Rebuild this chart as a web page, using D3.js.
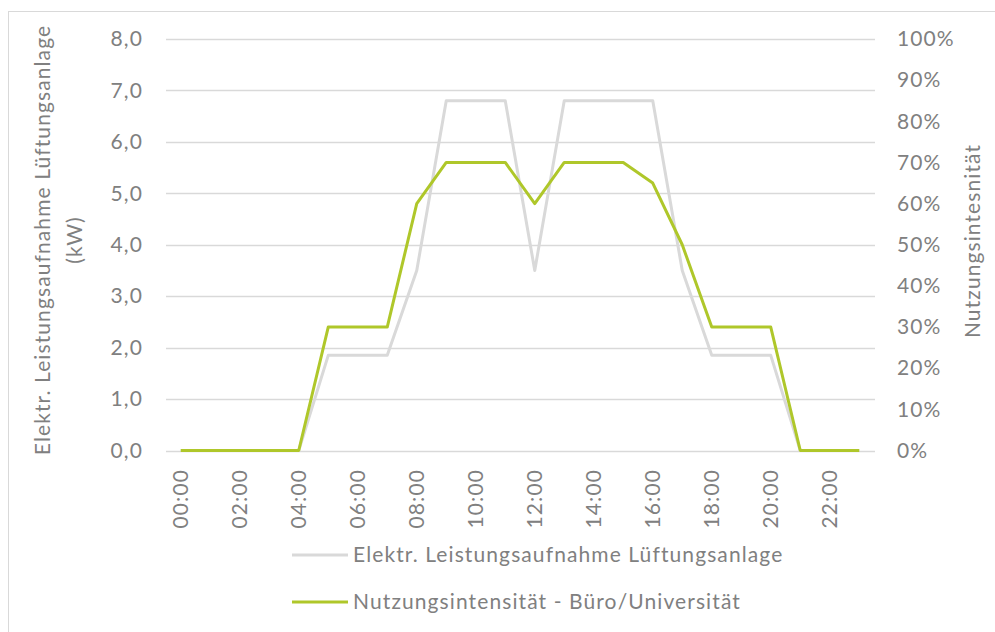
<!DOCTYPE html>
<html>
<head>
<meta charset="utf-8">
<script src="https://cdn.jsdelivr.net/npm/d3@7"></script>
<style>
  body { margin: 0; background: #fff; }
  text { font-family: Lato, "Open Sans", sans-serif; fill: #808080; letter-spacing: 1.1px; }
</style>
</head>
<body>
<script>
// hours of the day (categories)
var hours = ["00:00","01:00","02:00","03:00","04:00","05:00","06:00","07:00","08:00","09:00","10:00","11:00",
             "12:00","13:00","14:00","15:00","16:00","17:00","18:00","19:00","20:00","21:00","22:00","23:00"];
// electric power ventilation system (kW)
var power = [0,0,0,0,0,1.85,1.85,1.85,3.5,6.8,6.8,6.8,3.5,6.8,6.8,6.8,6.8,3.5,1.85,1.85,1.85,0,0,0];
// usage intensity office/university (share)
var usage = [0,0,0,0,0,0.3,0.3,0.3,0.6,0.7,0.7,0.7,0.6,0.7,0.7,0.7,0.65,0.5,0.3,0.3,0.3,0,0,0];
var leftTicks = [0,1,2,3,4,5,6,7,8];
var rightTicks = [0,0.1,0.2,0.3,0.4,0.5,0.6,0.7,0.8,0.9,1];
var hourLabels = hours.filter(function(d, i) { return i % 2 == 0; });
var seriesNames = ["Elektr. Leistungsaufnahme Lüftungsanlage", "Nutzungsintensität - Büro/Universität"];

var W = 995, H = 632, fs = 21;
var svg = d3.select("body").append("svg").attr("width", W).attr("height", H);

// chart frame
svg.append("rect")
    .attr("x", 8.5).attr("y", 11.5)
    .attr("width", W + 20).attr("height", H + 20)
    .attr("fill", "none").attr("stroke", "#d9d9d9");

var x = d3.scaleBand().domain(hours).range([166, 874]).padding(0);
var y = d3.scaleLinear().domain([0, 8]).range([450.5, 39]);
var y2 = d3.scaleLinear().domain([0, 1]).range([450.5, 39]);
function cx(d) { return x(d) + x.bandwidth() / 2; }

// gridlines
svg.append("g").selectAll("line")
    .data(leftTicks)
  .enter().append("line")
    .attr("x1", 166).attr("x2", 875)
    .attr("y1", function(d) { return Math.round(y(d)) + 0.5; })
    .attr("y2", function(d) { return Math.round(y(d)) + 0.5; })
    .attr("stroke", "#d9d9d9").attr("stroke-width", 1.3);

// left axis
var fmtKw = function(d) { return d3.format(".1f")(d).replace(".", ","); };
var gl = svg.append("g")
    .attr("transform", "translate(143,0)")
    .call(d3.axisLeft(y).tickValues(leftTicks).tickSize(0).tickPadding(0).tickFormat(fmtKw));
gl.select(".domain").remove();
gl.selectAll("text").attr("font-size", fs).attr("font-family", null).attr("fill", "#808080");

// right axis
var gr = svg.append("g")
    .attr("transform", "translate(897,0)")
    .call(d3.axisRight(y2).tickValues(rightTicks).tickSize(0).tickPadding(0).tickFormat(d3.format(".0%")));
gr.select(".domain").remove();
gr.selectAll("text").attr("font-size", fs).attr("font-family", null).attr("fill", "#808080");

// bottom axis, rotated labels
var gb = svg.append("g")
    .attr("transform", "translate(0,469)")
    .call(d3.axisBottom(x).tickValues(hourLabels).tickSize(0).tickPadding(0));
gb.select(".domain").remove();
gb.selectAll("text")
    .attr("font-size", fs).attr("font-family", null).attr("fill", "#808080")
    .attr("text-anchor", "end")
    .attr("transform", "rotate(-90)")
    .attr("x", 0).attr("y", 0).attr("dy", "0.35em");

// lines
var linePower = d3.line()
    .x(function(d, i) { return cx(hours[i]); })
    .y(function(d) { return y(d); });
var lineUsage = d3.line()
    .x(function(d, i) { return cx(hours[i]); })
    .y(function(d) { return y2(d); });

svg.append("path").datum(power)
    .attr("d", linePower)
    .attr("fill", "none").attr("stroke", "#d9d9d9").attr("stroke-width", 3).attr("stroke-linejoin", "round");
svg.append("path").datum(usage)
    .attr("d", lineUsage)
    .attr("fill", "none").attr("stroke", "#afc72a").attr("stroke-width", 3).attr("stroke-linejoin", "round");

// axis titles
svg.append("text")
    .attr("transform", "translate(43,240) rotate(-90)")
    .attr("text-anchor", "middle").attr("dy", "0.35em").attr("font-size", fs)
    .text("Elektr. Leistungsaufnahme Lüftungsanlage");
svg.append("text")
    .attr("transform", "translate(75,240) rotate(-90)")
    .attr("text-anchor", "middle").attr("dy", "0.35em").attr("font-size", fs)
    .text("(kW)");
svg.append("text")
    .attr("transform", "translate(973,241) rotate(-90)")
    .attr("text-anchor", "middle").attr("dy", "0.35em").attr("font-size", fs)
    .text("Nutzungsintesnität");

// legend
var legend = svg.append("g").selectAll("g")
    .data(seriesNames)
  .enter().append("g")
    .attr("transform", function(d, i) { return "translate(292," + (555 + i * 47) + ")"; });
legend.append("line")
    .attr("x1", 0).attr("x2", 56)
    .attr("stroke", function(d, i) { return i == 0 ? "#d9d9d9" : "#afc72a"; })
    .attr("stroke-width", 3);
legend.append("text")
    .attr("x", 61).attr("dy", "0.35em").attr("font-size", fs)
    .text(function(d) { return d; });
</script>
</body>
</html>
